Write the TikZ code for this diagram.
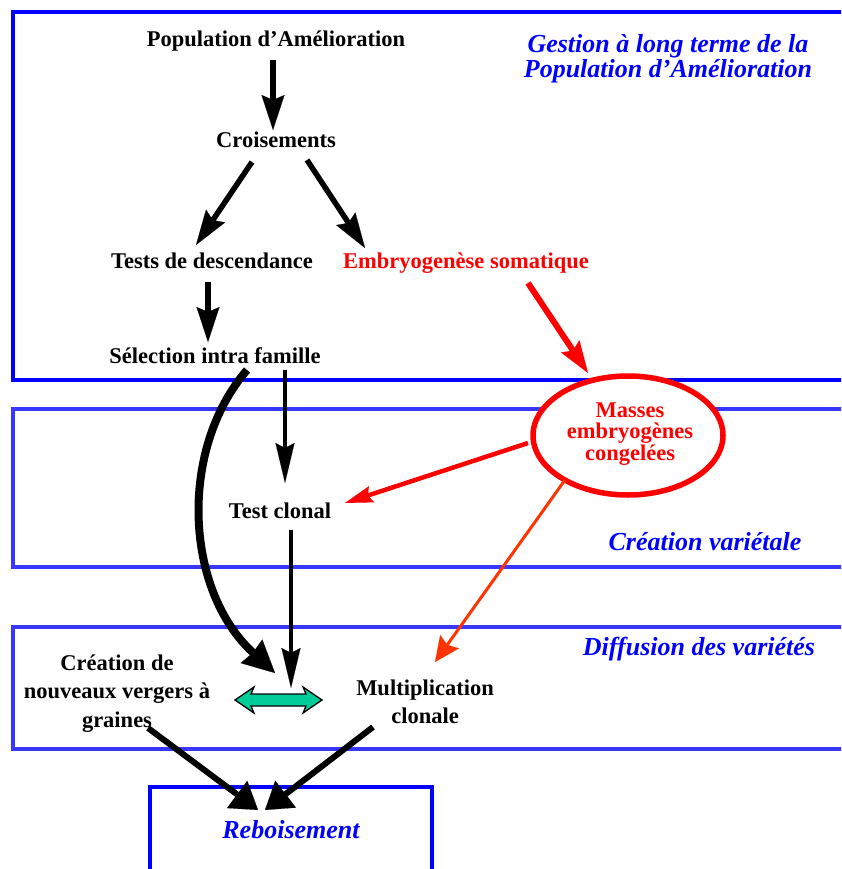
\documentclass[tikz,border=0pt]{standalone}
\usepackage{fontspec}
\setmainfont{Liberation Serif}
\usetikzlibrary{arrows.meta,shapes.geometric}
\definecolor{bluebox}{RGB}{0,0,255}
\definecolor{bluebox2}{RGB}{55,55,255}
\definecolor{redc}{RGB}{255,0,0}
\definecolor{orangec}{RGB}{255,51,0}
\definecolor{greenc}{RGB}{0,204,153}
\begin{document}
\begin{tikzpicture}[x=1pt,y=-1pt,
  lbl/.style={font=\fontsize{22.5}{28}\selectfont\bfseries, inner sep=0pt, align=center, anchor=base},
  ttl/.style={font=\fontsize{26}{25}\selectfont\bfseries\itshape, text=bluebox, inner sep=0pt, align=center, anchor=base},
  frameA/.style={line width=4.5pt, draw=bluebox},
  frameB/.style={line width=4.5pt, draw=bluebox2},
  blk/.style={line width=5.5pt, -{Stealth[length=35pt,width=23pt,inset=5pt,line width=0.1pt]}},
  blkbot/.style={line width=6pt, -{Triangle[length=26pt,width=34pt,line width=0.1pt]}},
  thinblk/.style={line width=4.5pt, -{Stealth[length=40pt,width=19pt,inset=5pt,line width=0.1pt]}},
  curveblk/.style={line width=8pt, -{Stealth[length=32pt,width=32pt,inset=2pt,line width=0.1pt]}},
  redarr/.style={draw=redc, line width=6pt, -{Stealth[length=32pt,width=22pt,inset=5pt,line width=0.1pt]}},
  redarrB/.style={draw=redc, line width=4.5pt, -{Stealth[length=28pt,width=17pt,inset=4pt,line width=0.1pt]}},
  orarr/.style={draw=orangec, line width=3pt, -{Stealth[length=25pt,width=23pt,inset=4pt,line width=0.1pt]}},
]
\useasboundingbox (0,0) rectangle (841,869);
\clip (0,0) rectangle (841,869);

% frames
\draw[frameA] (13,12) rectangle (870,380);
\draw[frameB] (13,409) rectangle (870,567);
\draw[frameB] (13,627) rectangle (870,749);
\draw[frameA] (150,787) rectangle (432,900);

% section titles
\node[ttl] (t1) at (668,78) {Gestion à long terme de la\\Population d'Amélioration};
\node[ttl] (t2) at (705,550) {Création variétale};
\node[ttl] (t3) at (699,655) {Diffusion des variétés};
\node[ttl] (t4) at (291,838) {Reboisement};

% labels
\node[lbl] (pop) at (276,47) {Population d'Amélioration};
\node[lbl] (crois) at (276,148) {Croisements};
\node[lbl] (tests) at (212,268) {Tests de descendance};
\node[lbl, text=redc] (embryo) at (466,268) {Embryogenèse somatique};
\node[lbl] (sel) at (215,363) {Sélection intra famille};
\node[draw=redc, line width=5.5pt, fill=white, ellipse, minimum width=190pt, minimum height=119pt, inner sep=0pt] (masses) at (628,435.5) {};
\node[lbl, text=redc, font=\fontsize{22.5}{21.5}\selectfont\bfseries] (massestxt) at (630,460) {Masses\\embryogènes\\congelées};
\node[lbl] (clonal) at (280,518) {Test clonal};
\node[lbl, font=\fontsize{22.5}{28.5}\selectfont\bfseries] (verg) at (117,727) {Création de\\nouveaux vergers à\\graines};
\node[lbl] (multi) at (425,723) {Multiplication\\clonale};

% connector end points
\coordinate (pop-o) at (273,60);   \coordinate (crois-i) at (273,130);
\coordinate (crois-o1) at (252,162); \coordinate (tests-i) at (196,245);
\coordinate (crois-o2) at (307,160); \coordinate (embryo-i) at (365,248);
\coordinate (tests-o) at (208,282); \coordinate (sel-i) at (208,342);
\coordinate (embryo-o) at (528,283); \coordinate (masses-i) at (588,373);
\coordinate (sel-o1) at (285,370); \coordinate (clonal-i) at (285,483);
\coordinate (masses-o1) at (528,443); \coordinate (clonal-i2) at (345,503);
\coordinate (masses-o2) at (565,480); \coordinate (multi-i) at (435,662);
\coordinate (sel-o2) at (247,370); \coordinate (dbl-i1) at (275,673);
\coordinate (clonal-o) at (291,530); \coordinate (dbl-i2) at (291,688);
\coordinate (verg-o) at (148,728); \coordinate (reb-i1) at (258,810);
\coordinate (multi-o) at (373,727); \coordinate (reb-i2) at (265,810);

% connectors
\draw[blk] (pop-o) -- (crois-i);
\draw[blk] (crois-o1) -- (tests-i);
\draw[blk] (crois-o2) -- (embryo-i);
\draw[blk] (tests-o) -- (sel-i);
\draw[redarr] (embryo-o) -- (masses-i);
\draw[thinblk] (sel-o1) -- (clonal-i);
\draw[redarrB] (masses-o1) -- (clonal-i2);
\draw[orarr] (masses-o2) -- (multi-i);
\draw[curveblk] (sel-o2) .. controls (178,450) and (185,590) .. (dbl-i1);
\draw[thinblk] (clonal-o) -- (dbl-i2);
\draw[blkbot] (verg-o) -- (reb-i1);
\draw[blkbot] (multi-o) -- (reb-i2);

% double arrow
\draw[fill=greenc, draw=black, line width=1.3pt, line join=miter]
  (235,700) -- (254,687) -- (251,694) -- (306,694) -- (303,687) -- (322,700)
  -- (303,713) -- (306,706) -- (251,706) -- (254,713) -- cycle;
\end{tikzpicture}
\end{document}
